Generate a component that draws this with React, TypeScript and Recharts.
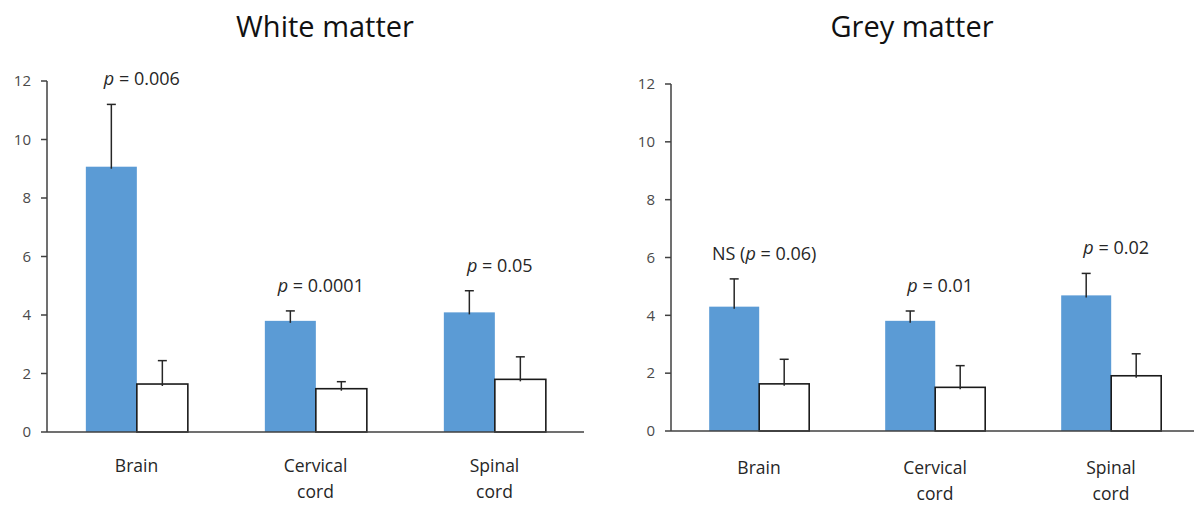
import React from 'react';
import { BarChart, Bar, XAxis, YAxis, LabelList } from 'recharts';

const categories = ['Brain', 'Cervical cord', 'Spinal cord'];
const yTicks = [0, 2, 4, 6, 8, 10, 12];

// white matter
const whitePatients = [9.07, 3.8, 4.09];
const whitePatientsErr = [2.13, 0.34, 0.74];
const whiteControls = [1.64, 1.48, 1.8];
const whiteControlsErr = [0.8, 0.24, 0.77];
const whitePLabels = ['p = 0.006', 'p = 0.0001', 'p = 0.05'];

// grey matter
const greyPatients = [4.3, 3.81, 4.69];
const greyPatientsErr = [0.96, 0.34, 0.76];
const greyControls = [1.63, 1.51, 1.91];
const greyControlsErr = [0.85, 0.75, 0.76];
const greyPLabels = ['NS (p = 0.06)', 'p = 0.01', 'p = 0.02'];

const FONT = '"Open Sans", sans-serif';
const BLUE = '#5B9BD5';
const AXIS = '#404040';

type Row = { name: string; pat: number; patErr: number; ctl: number; ctlErr: number; label: string };

const buildRows = (pat: number[], patErr: number[], ctl: number[], ctlErr: number[], labels: string[]): Row[] =>
  categories.map((name, i) => ({ name, pat: pat[i], patErr: patErr[i], ctl: ctl[i], ctlErr: ctlErr[i], label: labels[i] }));

const whiteRows = buildRows(whitePatients, whitePatientsErr, whiteControls, whiteControlsErr, whitePLabels);
const greyRows = buildRows(greyPatients, greyPatientsErr, greyControls, greyControlsErr, greyPLabels);

// bar + plus-only error bar (Excel style, cap on top only)
const barWithError = (valueKey: 'pat' | 'ctl', errKey: 'patErr' | 'ctlErr') => (props: any) => {
  const { x, y, width, height, payload, fill, stroke } = props;
  const ppu = height / payload[valueKey];
  const cx = x + width / 2;
  const top = y - payload[errKey] * ppu;
  return (
    <g>
      <rect x={x} y={y} width={width} height={height} fill={fill} stroke={stroke} strokeWidth={stroke ? 1.6 : 0} />
      <line x1={cx} y1={y + 2} x2={cx} y2={top} stroke="#262626" strokeWidth={1.5} />
      <line x1={cx - 4.5} y1={top} x2={cx + 4.5} y2={top} stroke="#262626" strokeWidth={1.5} />
    </g>
  );
};

const pLabel = (rows: Row[]) => (props: any) => {
  const { x, y, width, height, index } = props;
  const row = rows[index];
  const ppu = height / row.pat;
  const top = y - row.patErr * ppu;
  const [before, after] = row.label.split('p');
  return (
    <text x={x + width + 5} y={top - 19} textAnchor="middle" fontSize={18} fontFamily={FONT} fill="#262626">
      {before}
      <tspan fontStyle="italic">p</tspan>
      {after}
    </text>
  );
};

const CategoryTick = ({ x, y, payload, first }: any) => {
  const lines = String(payload.value).split(' ');
  return (
    <text x={x} y={y + first} textAnchor="middle" fontSize={17.5} fontFamily={FONT} fill="#262626">
      {lines.map((l, i) => (
        <tspan key={l} x={x} dy={i === 0 ? 0 : 26}>{l}</tspan>
      ))}
    </text>
  );
};

function Panel({ rows, width, top, yWidth, plotH, labelFirst }: { rows: Row[]; width: number; top: number; yWidth: number; plotH: number; labelFirst: number }) {
  return (
    <BarChart width={width} height={505} data={rows} margin={{ top, right: 0, bottom: 0, left: 0 }}
      barCategoryGap="21.7%" barGap={0}>
      <XAxis dataKey="name" height={505 - top - plotH} axisLine={{ stroke: AXIS, strokeWidth: 1.5 }} tickLine={false}
        tick={<CategoryTick first={labelFirst} />} interval={0} />
      <YAxis domain={[0, 12]} ticks={yTicks} width={yWidth} axisLine={{ stroke: AXIS, strokeWidth: 1.5 }}
        tickLine={{ stroke: AXIS, strokeWidth: 1.5 }} tickSize={6} tickMargin={10}
        tick={{ fontSize: 15, fill: '#4a4a4a', fontFamily: FONT }} />
      <Bar dataKey="pat" fill={BLUE} isAnimationActive={false} shape={barWithError('pat', 'patErr')}>
        <LabelList dataKey="label" content={pLabel(rows)} />
      </Bar>
      <Bar dataKey="ctl" fill="#ffffff" stroke="#1a1a1a" isAnimationActive={false} shape={barWithError('ctl', 'ctlErr')} />
    </BarChart>
  );
}

export default function App() {
  const title: React.CSSProperties = {
    position: 'absolute', top: 0, height: 52, lineHeight: '52px', width: 300, textAlign: 'center',
    fontFamily: FONT, fontSize: 29, color: '#111',
  };
  return (
    <div style={{ position: 'absolute', left: 0, top: 0, width: 1194, height: 505, overflow: 'hidden', background: '#fff' }}>
      <div style={{ ...title, left: 175 }}>White matter</div>
      <div style={{ ...title, left: 762 }}>Grey matter</div>
      <div style={{ position: 'absolute', left: 0, top: 0 }}>
        <Panel rows={whiteRows} width={584} top={81} yWidth={47} plotH={351} labelFirst={32} />
      </div>
      <div style={{ position: 'absolute', left: 597, top: 0 }}>
        <Panel rows={greyRows} width={602} top={84} yWidth={74} plotH={347} labelFirst={35} />
      </div>
    </div>
  );
}
